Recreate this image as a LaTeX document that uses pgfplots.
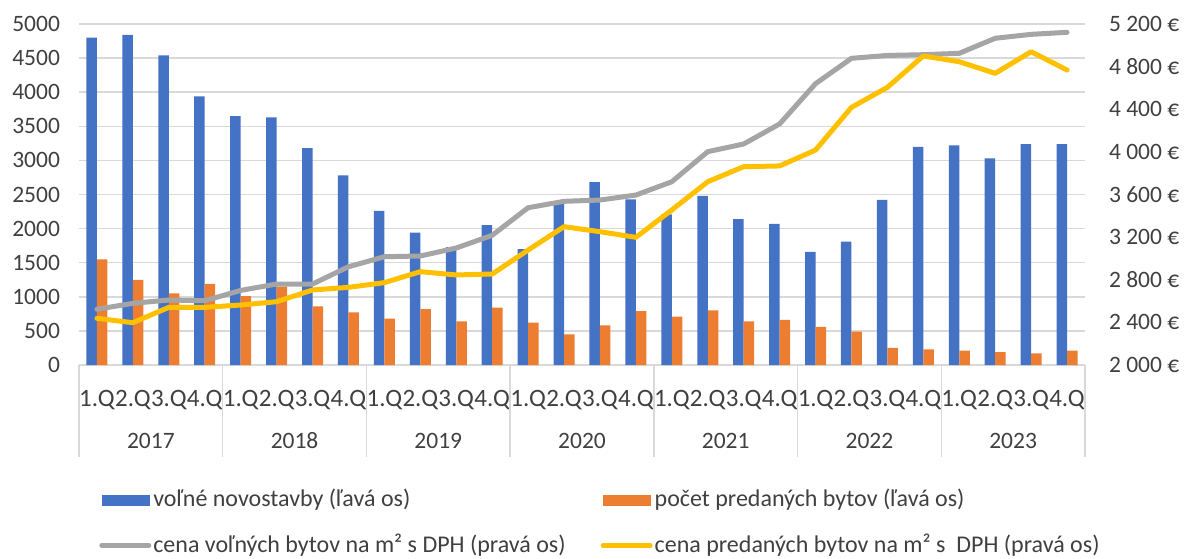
\documentclass[border=0pt]{standalone}
\usepackage{pgfplots}
\pgfplotsset{compat=1.18}
\usepackage{fontspec}
\setmainfont{Carlito}
\definecolor{cblue}{HTML}{4472C4}
\definecolor{corange}{HTML}{ED7D31}
\definecolor{cgray}{HTML}{A5A5A5}
\definecolor{cyellow}{HTML}{FFC000}
\definecolor{gridgray}{HTML}{D9D9D9}
\definecolor{textgray}{HTML}{404040}
\begin{document}
\fontsize{23.5}{28}\selectfont
\begin{tikzpicture}
\useasboundingbox (-79pt,-193pt) rectangle (1107pt,365pt);
\begin{axis}[
  scale only axis, width=1006pt, height=341pt,
  xmin=-0.5, xmax=27.5, ymin=0, ymax=5000,
  ybar=0pt, bar width=10.5pt,
  axis line style={draw=none},
  ytick={0,500,...,5000},
  ymajorgrids, grid style={color=gridgray, line width=1.5pt},
  xtick={0,...,27},
  xticklabels={1.Q,2.Q,3.Q,4.Q,1.Q,2.Q,3.Q,4.Q,1.Q,2.Q,3.Q,4.Q,1.Q,2.Q,3.Q,4.Q,1.Q,2.Q,3.Q,4.Q,1.Q,2.Q,3.Q,4.Q,1.Q,2.Q,3.Q,4.Q},
  tick style={draw=none},
  xticklabel style={yshift=-13pt, text=textgray, font=\fontsize{25}{30}\selectfont, inner xsep=0pt},
  yticklabel style={text=textgray, xshift=-11pt},
  /pgf/number format/assume math mode=true,
  /pgf/number format/set thousands separator={},
  clip=false,
]
\addplot[fill=cblue, draw=none] coordinates {
(0,4800) (1,4840) (2,4540) (3,3940) (4,3650) (5,3630) (6,3180) (7,2780)
(8,2260) (9,1940) (10,1730) (11,2050) (12,1700) (13,2400) (14,2680) (15,2430)
(16,2210) (17,2480) (18,2140) (19,2070) (20,1660) (21,1810) (22,2420) (23,3200)
(24,3220) (25,3030) (26,3240) (27,3240)};
\addplot[fill=corange, draw=none] coordinates {
(0,1550) (1,1250) (2,1050) (3,1190) (4,1010) (5,1150) (6,860) (7,770)
(8,680) (9,820) (10,640) (11,840) (12,620) (13,450) (14,580) (15,790)
(16,710) (17,800) (18,640) (19,660) (20,560) (21,490) (22,250) (23,230)
(24,210) (25,190) (26,170) (27,210)};
\pgfplotsinvokeforeach{-0.5,3.5,7.5,11.5,15.5,19.5,23.5,27.5}{
  \draw[gridgray, line width=1.5pt] (axis cs:#1,0) -- ++(0pt,-92pt);
}
\node[text=textgray] at (axis cs:1.5,0) [yshift=-76pt] {2017};
\node[text=textgray] at (axis cs:5.5,0) [yshift=-76pt] {2018};
\node[text=textgray] at (axis cs:9.5,0) [yshift=-76pt] {2019};
\node[text=textgray] at (axis cs:13.5,0) [yshift=-76pt] {2020};
\node[text=textgray] at (axis cs:17.5,0) [yshift=-76pt] {2021};
\node[text=textgray] at (axis cs:21.5,0) [yshift=-76pt] {2022};
\node[text=textgray] at (axis cs:25.5,0) [yshift=-76pt] {2023};
\end{axis}
\begin{axis}[
  scale only axis, width=1006pt, height=341pt,
  xmin=-0.5, xmax=27.5, ymin=2000, ymax=5200,
  axis y line*=right, hide x axis,
  axis line style={draw=none},
  tick style={draw=none},
  ytick={2000,2400,...,5200},
  yticklabels={2 000 €,2 400 €,2 800 €,3 200 €,3 600 €,4 000 €,4 400 €,4 800 €,5 200 €},
  yticklabel style={text=textgray, xshift=16pt},
  legend columns=2,
  legend cell align=left,
  legend style={draw=none, fill=none, at={(axis description cs:0.017,-0.352)}, anchor=north west,
    font=\fontsize{24}{28}\selectfont, text=textgray,
    /tikz/every even column/.append style={column sep=33pt},
    row sep=20pt},
  clip=false,
]
\addlegendimage{legend image code/.code={\fill[cblue] (0pt,-5pt) rectangle (47pt,5pt);}}
\addlegendentry{voľné novostavby (ľavá os)}
\addlegendimage{legend image code/.code={\fill[corange] (0pt,-5pt) rectangle (47pt,5pt);}}
\addlegendentry{počet predaných bytov (ľavá os)}
\addplot[cgray, line width=5pt, line join=round, line cap=round,
  legend image code/.code={\draw[cgray, line width=5pt] (0pt,0pt) -- (47pt,0pt);}] coordinates {
(0,2523) (1,2579) (2,2610) (3,2603) (4,2700) (5,2760) (6,2760) (7,2922)
(8,3016) (9,3023) (10,3098) (11,3217) (12,3476) (13,3536) (14,3548) (15,3595)
(16,3720) (17,4002) (18,4074) (19,4262) (20,4640) (21,4878) (22,4905) (23,4912)
(24,4925) (25,5066) (26,5103) (27,5122)};
\addlegendentry{cena voľných bytov na m² s DPH (pravá os)}
\addplot[cyellow, line width=5pt, line join=round, line cap=round,
  legend image code/.code={\draw[cyellow, line width=5pt] (0pt,0pt) -- (47pt,0pt);}] coordinates {
(0,2438) (1,2397) (2,2541) (3,2541) (4,2563) (5,2594) (6,2704) (7,2729)
(8,2773) (9,2876) (10,2845) (11,2854) (12,3079) (13,3298) (14,3251) (15,3198)
(16,3455) (17,3720) (18,3861) (19,3868) (20,4017) (21,4418) (22,4606) (23,4900)
(24,4846) (25,4737) (26,4940) (27,4768)};
\addlegendentry{cena predaných bytov na m² s\ \ DPH (pravá os)}
\end{axis}
\end{tikzpicture}
\end{document}
